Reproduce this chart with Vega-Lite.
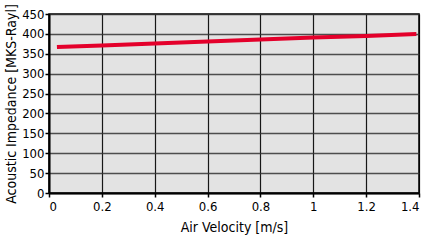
{
  "$schema": "https://vega.github.io/schema/vega-lite/v6.json",
  "width": 370,
  "height": 179,
  "autosize": {"type": "none"},
  "padding": {"left": 49, "top": 14, "right": 6, "bottom": 51},
  "background": "white",
  "config": {
    "view": {"fill": "#e3e3e3", "stroke": "black", "strokeWidth": 1.5},
    "font": "DejaVu Sans Condensed"
  },
  "data": {
    "values": [
      {"v": 0.03, "z": 367},
      {"v": 0.2, "z": 371},
      {"v": 0.4, "z": 376},
      {"v": 0.6, "z": 381},
      {"v": 0.8, "z": 386},
      {"v": 1.0, "z": 391},
      {"v": 1.2, "z": 395},
      {"v": 1.39, "z": 400}
    ]
  },
  "mark": {"type": "line", "color": "#e4002b", "strokeWidth": 4, "strokeCap": "butt"},
  "encoding": {
    "x": {
      "field": "v", "type": "quantitative",
      "scale": {"domain": [0, 1.4], "nice": false},
      "axis": {
        "values": [0, 0.2, 0.4, 0.6, 0.8, 1, 1.2, 1.4],
        "format": "~g",
        "title": "Air Velocity [m/s]",
        "titleFont": "DejaVu Sans Condensed", "titleFontWeight": "normal", "titleFontSize": 14, "titleColor": "black", "titlePadding": 7,
        "labelFont": "DejaVu Sans Condensed", "labelFontSize": 13, "labelColor": "black", "labelPadding": 3,
        "domainColor": "black", "domainWidth": 2,
        "tickColor": "black", "tickSize": 4, "tickWidth": 1.5,
        "gridColor": "black", "gridWidth": 1.2, "gridOpacity": 0.9
      }
    },
    "y": {
      "field": "z", "type": "quantitative",
      "scale": {"domain": [0, 450], "nice": false},
      "axis": {
        "values": [0, 50, 100, 150, 200, 250, 300, 350, 400, 450],
        "title": "Acoustic Impedance [MKS-Rayl]",
        "titleFont": "DejaVu Sans Condensed", "titleFontWeight": "normal", "titleFontSize": 14, "titleColor": "black", "titlePadding": 3,
        "labelFont": "DejaVu Sans Condensed", "labelFontSize": 13, "labelColor": "black", "labelPadding": 1,
        "domainColor": "black", "domainWidth": 2,
        "tickColor": "black", "tickSize": 4, "tickWidth": 1.5,
        "gridColor": "#333333", "gridWidth": 1.5, "gridOpacity": 0.85
      }
    }
  }
}
